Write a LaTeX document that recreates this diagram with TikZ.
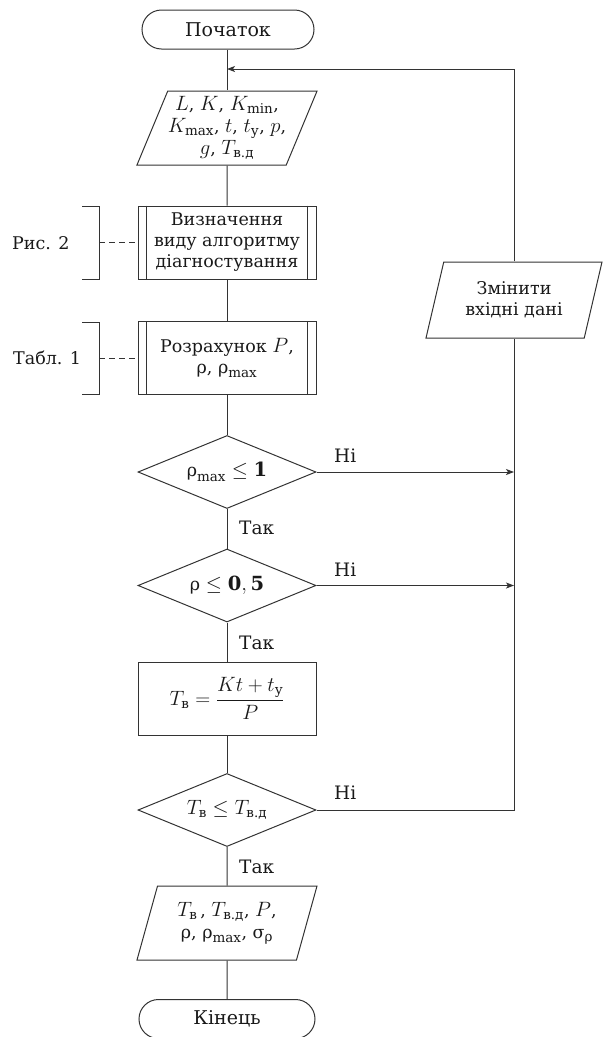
\documentclass[tikz,border=0pt]{standalone}
\usepackage{amsmath}
\usepackage{fontspec}
\setmainfont{DejaVu Serif}
\DeclareMathSizes{17.5}{19.5}{13.5}{10}
\usetikzlibrary{shapes.geometric,shapes.misc,arrows.meta}
\newcommand{\cy}[1]{\text{#1}}
\newcommand{\rh}{\text{ρ}}
\newcommand{\sg}{\text{σ}}
\begin{document}
\begin{tikzpicture}[x=1pt,y=-1pt,
  every node/.style={font=\fontsize{17.5}{21}\selectfont, text=black!90},
  ln/.style={draw=black!80,line width=1pt},
  term/.style={rounded rectangle, ln, minimum width=172pt, minimum height=39pt, inner sep=0pt, font=\fontsize{19}{22}\selectfont},
  io/.style={trapezium, trapezium left angle=64, trapezium right angle=116, trapezium stretches body, ln, minimum width=179pt, minimum height=74pt, inner sep=0pt, align=center},
  proc/.style={rectangle, ln, minimum width=178pt, minimum height=73pt, inner sep=0pt, align=center},
  dec/.style={diamond, ln, minimum width=178pt, minimum height=73pt, inner sep=0pt},
  dtext/.style={inner sep=0pt},
  lbl/.style={anchor=west, inner sep=0pt},
  yn/.style={lbl, font=\fontsize{18.5}{22}\selectfont},
  arr/.style={ln, -{Stealth[length=8pt,width=6pt,inset=2pt]}},
  dsh/.style={ln, dash pattern=on 6pt off 4pt},
]
\useasboundingbox (0,0) rectangle (608,1037);

\node[term] (start) at (228,29.5) {Початок};
\coordinate (join) at (227,69);
\node[io] (in) at (227,128) {$L$, $K$, $K_{\text{min}}$,\\[1pt] $K_{\text{max}}$, $t$, $t_{\cy{у}}$, $p$,\\[1pt] $g$, $T_{\cy{в.д}}$};
\node[proc] (b1) at (227,242.5) {Визначення\\виду алгоритму\\діагностування};
\node[proc] (b2) at (227,358) {Розрахунок $P$,\\ρ, $\rh_{\text{max}}$};
\node[dec] (d1) at (227,472) {};
\node[dtext] (d1t) at (d1) {$\rh_{\text{max}} \le \mathbf{1}$};
\node[dec] (d2) at (227,585.5) {};
\node[dtext] (d2t) at (d2) {$\rh \le \mathbf{0{,}\,5}$};
\node[proc] (f) at (227,698.5) {$T_{\cy{в}} = \dfrac{Kt + t_{\cy{у}}}{P}$};
\node[dec] (d3) at (227,810) {};
\node[dtext] (d3t) at (d3) {$T_{\cy{в}} \le T_{\cy{в.д}}$};
\node[io, minimum width=180pt] (out) at (227,923) {$T_{\cy{в}}$\,, $T_{\cy{в.д}}$, $P$,\\[1pt] ρ, $\rh_{\text{max}}$, $\sg_{\rh}$};
\node[term, minimum width=176pt] (end) at (227,1019) {Кінець};
\node[io, minimum width=176pt, minimum height=76pt] (sw) at (514,300) {Змінити\\вхідні дані};

% inner lines of predefined processes
\foreach \n in {b1,b2}{
  \draw[ln] ([xshift=9pt]\n.north west) -- ([xshift=9pt]\n.south west);
  \draw[ln] ([xshift=-9pt]\n.north east) -- ([xshift=-9pt]\n.south east);
}

% main flow
\draw[ln] (start.south -| in.north) -- (in.north);
\draw[ln] (in.south) -- (b1.north);
\draw[ln] (b1.south) -- (b2.north);
\draw[ln] (b2.south) -- (d1.north);
\draw[ln] (d1.south) -- (d2.north);
\draw[ln] (d2.south) -- (f.north);
\draw[ln] (f.south) -- (d3.north);
\draw[ln] (d3.south) -- (out.north);
\draw[ln] (out.south) -- (end.north);

% loop back
\draw[ln] (d3.east) -| (sw.south);
\draw[arr] (sw.north) |- (join);
\draw[arr] (d1.east) -- (d1.east -| sw.south);
\draw[arr] (d2.east) -- (d2.east -| sw.south);

% labels
\node[yn] (no1) at (334,456) {Ні};
\node[yn] (yes1) at (239,528) {Так};
\node[yn] (no2) at (334,570) {Ні};
\node[yn] (yes2) at (239,643) {Так};
\node[yn] (no3) at (334,793) {Ні};
\node[yn] (yes3) at (239,867) {Так};

% brackets
\node[lbl] (r2) at (12,243) {Рис. 2};
\node[lbl] (t1) at (13,358) {Табл. 1};
\coordinate (br1) at (99,242.5);
\coordinate (br2) at (99,358);
\draw[ln] (82,206) -- (99,206) -- (99,279) -- (82,279);
\draw[ln] (82,322) -- (99,322) -- (99,394) -- (82,394);
\draw[dsh] (br1) -- (b1.west);
\draw[dsh] (br2) -- (b2.west);
\end{tikzpicture}
\end{document}
